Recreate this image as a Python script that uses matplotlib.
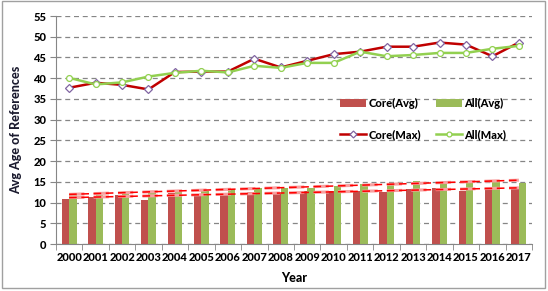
import matplotlib
matplotlib.use("Agg")
import matplotlib.pyplot as plt
import numpy as np

plt.rcParams['font.family'] = ['Lato', 'DejaVu Sans']

# data
years = ['2000', '2001', '2002', '2003', '2004', '2005', '2006', '2007', '2008',
         '2009', '2010', '2011', '2012', '2013', '2014', '2015', '2016', '2017']
core_avg = [10.9, 11.3, 11.8, 10.7, 12.4, 12.0, 12.0, 12.6, 12.2,
            12.7, 12.7, 12.8, 12.6, 13.3, 13.5, 12.8, 13.5, 13.3]
all_avg = [12.1, 11.9, 12.4, 12.6, 13.1, 12.8, 13.2, 13.5, 13.5,
           13.6, 14.0, 14.4, 14.4, 15.3, 14.8, 14.9, 15.5, 14.8]
core_max = [37.7, 38.9, 38.4, 37.3, 41.5, 41.6, 41.6, 44.7, 42.6,
            44.2, 45.8, 46.4, 47.6, 47.6, 48.6, 48.1, 45.3, 48.6]
all_max = [40.1, 38.5, 39.0, 40.4, 41.3, 41.8, 41.4, 43.0, 42.5,
           43.7, 43.7, 46.4, 45.3, 45.6, 46.1, 46.1, 47.1, 47.8]

fig = plt.figure(figsize=(5.48, 2.91), dpi=100)
# outer chart border
fig.patches.append(plt.Rectangle((0.003, 0.01), 0.992, 0.985, transform=fig.transFigure,
                                 fill=False, edgecolor='#a0a0a0', linewidth=1))
ax = fig.add_axes([0.102, 0.161, 0.869, 0.784])

x = np.arange(len(years))
w = 0.28
b1 = ax.bar(x - w/2, core_avg, width=w, color='#C0504D', label='Core(Avg)', zorder=2)
b2 = ax.bar(x + w/2, all_avg, width=w, color='#9BBB59', label='All(Avg)', zorder=2)

# linear trendlines for the averages
for vals in (core_avg, all_avg):
    k, c = np.polyfit(x, vals, 1)
    ax.plot(x, k * x + c, color='#F7A0A0', lw=2.2, dashes=(5, 3), zorder=3)
    ax.plot(x, k * x + c, color='#FF0000', lw=1.1, dashes=(5, 3), zorder=3)

l1, = ax.plot(x, core_max, color='#C00000', lw=1.8, marker='D', ms=4.5,
              mfc='white', mec='#8064A2', mew=0.9, label='Core(Max)', zorder=4)
l2, = ax.plot(x, all_max, color='#92D050', lw=1.8, marker='o', ms=4.2,
              mfc='white', mec='#92D050', mew=0.9, label='All(Max)', zorder=4)

ax.set_ylim(0, 55)
ax.set_yticks(np.arange(0, 56, 5))
ax.set_xlim(-0.5, len(years) - 0.5)
ax.set_xticks(x)
ax.set_xticklabels(years, fontsize=8, fontweight='black')
ax.set_xticks(np.arange(-0.5, len(years)), minor=True)
ax.tick_params(axis='x', which='major', length=0, pad=6)
ax.tick_params(axis='x', which='minor', length=4, color='#868686')
ax.tick_params(axis='y', length=4, color='#868686', labelsize=8, pad=3)
for t in ax.get_yticklabels():
    t.set_fontweight('black')

ax.yaxis.grid(True, color='#868686', linestyle=(0, (4, 3)), linewidth=0.9, zorder=0)
ax.set_axisbelow(True)
for s in ['top', 'right']:
    ax.spines[s].set_visible(False)
for s in ['left', 'bottom']:
    ax.spines[s].set_color('#868686')

ax.set_xlabel('Year', fontsize=9, fontweight='black', labelpad=6)
ax.set_ylabel('Avg Age of References', fontsize=9, fontweight='black', color='#1a1a2e', labelpad=8)

leg = ax.legend(handles=[b1, l1, b2, l2], ncol=2, loc='upper left', bbox_to_anchor=(0.575, 0.685),
                frameon=False, prop={'weight': 'black', 'size': 8},
                handlelength=2.4, labelspacing=1.8, columnspacing=1.3, handletextpad=0.2)
for h in leg.legend_handles[1::2]:
    h.set_markersize(3.5)

fig.savefig('out.png', dpi=100)
